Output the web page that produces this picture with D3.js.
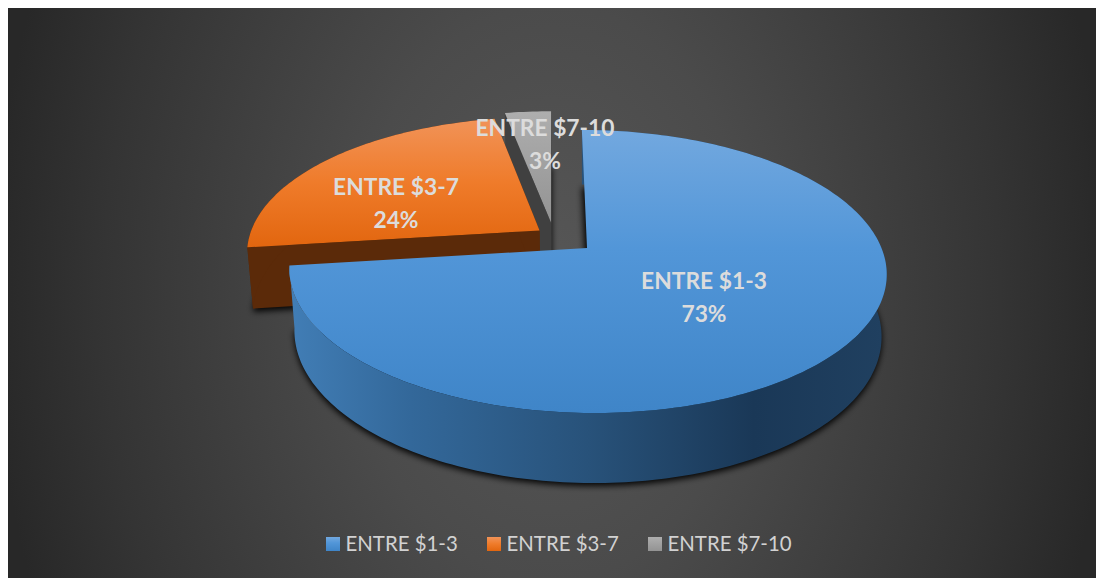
<!DOCTYPE html>
<html>
<head>
<meta charset="utf-8">
<script src="https://cdn.jsdelivr.net/npm/d3@7"></script>
<style>
  html, body { margin: 0; padding: 0; background: #fff; }
  svg { display: block; }
  text { font-family: Lato, "Open Sans", sans-serif; }
</style>
</head>
<body>
<svg id="chart" width="1096" height="578"></svg>
<script>
// Price bands and their share of responses
const categories = ["ENTRE $1-3", "ENTRE $3-7", "ENTRE $7-10"];
const shares = [73, 24, 3];
const ids = ["low", "mid", "high"];

// Slice styling: vertical face gradients and side wall tones
const faceStops = [
  [[0, "#72a8df"], [0.42, "#5296d8"], [1, "#3f85c8"]],
  [[0, "#f19358"], [0.5, "#ef7b2a"], [1, "#e2660f"]],
  [[0, "#aeaeae"], [1, "#939393"]]
];
const wallTone = [null, "#5b2a09", "#404040"];
const blueWallStops = [
  [0, "#417db5"], [0.2, "#33689a"], [0.5, "#28527a"], [0.78, "#1a3857"], [1, "#204060"]
];

// Pie-plane offset of each slice (exploded wedges)
const explodeX = [0, -0.162, -0.122];
const explodeY = [0, -0.13, -0.19];

// Camera model for the tilted disc
const apexX = 587, apexY = 248, radius = 294.5;
const tilt = 137.6, perspective = 0.166, shear = 6;
const depthDrop = 62.4, depthShrink = 0.017;

function project(x, y, z) {
  const s = 1 / (1 - perspective * y + depthShrink * z);
  return [apexX + (radius * x + shear * y) * s, apexY + (tilt * y + depthDrop * z) * s];
}

const svg = d3.select("#chart");
const defs = svg.append("defs");

// Elliptical vignette behind the chart
const bg = defs.append("radialGradient").attr("id", "panelBg")
  .attr("gradientUnits", "userSpaceOnUse")
  .attr("cx", 0).attr("cy", 0).attr("r", 1)
  .attr("gradientTransform", "translate(552,293) scale(560,800)");
[[0, "#575757"], [0.36, "#4b4b4b"], [0.8, "#343434"], [1, "#282828"]].forEach(([o, c]) => {
  bg.append("stop").attr("offset", o).attr("stop-color", c);
});

const blur = defs.append("filter").attr("id", "soft")
  .attr("x", "-10%").attr("y", "-10%").attr("width", "120%").attr("height", "120%");
blur.append("feGaussianBlur").attr("stdDeviation", 3);

function addGradient(id, stops, attrs) {
  const g = defs.append("linearGradient").attr("id", id);
  Object.entries(attrs).forEach(([k, v]) => g.attr(k, v));
  stops.forEach(([o, c]) => g.append("stop").attr("offset", o).attr("stop-color", c));
}
ids.forEach((id, i) => {
  addGradient("face-" + id, faceStops[i], { x1: 0, y1: 0, x2: 0, y2: 1 });
});
addGradient("wall-low", blueWallStops, {
  gradientUnits: "userSpaceOnUse", x1: 292, y1: 0, x2: 884, y2: 0
});

svg.append("rect").attr("x", 8).attr("y", 8).attr("width", 1088).attr("height", 570)
  .attr("fill", "url(#panelBg)");

const pie = d3.pie().sort(null).startAngle(0).endAngle(2 * Math.PI);
const arcs = pie(shares);
const path = d3.line();

// Points along a slice rim at the given depth
function rim(i, a0, a1, z) {
  const n = Math.max(2, Math.ceil((a1 - a0) / 0.02));
  return d3.range(n + 1).map(k => {
    const a = a0 + (a1 - a0) * k / n;
    return project(Math.sin(a) + explodeX[i], -Math.cos(a) + explodeY[i], z);
  });
}
const apexAt = (i, z) => project(explodeX[i], explodeY[i], z);
const sector = (i, z) => [apexAt(i, z), ...rim(i, arcs[i].startAngle, arcs[i].endAngle, z)];
const edge = (i, a) => [apexAt(i, 0), rim(i, a, a, 0)[0], rim(i, a, a, 1)[0], apexAt(i, 1)];
const outerWall = i => [
  ...rim(i, arcs[i].startAngle, arcs[i].endAngle, 0),
  ...rim(i, arcs[i].startAngle, arcs[i].endAngle, 1).reverse()
];

// Soft contact shadows under each slice
const shadows = svg.append("g").attr("filter", "url(#soft)").attr("transform", "translate(0,3)");
arcs.forEach((d, i) => {
  shadows.append("path").attr("d", path(sector(i, 1)) + "Z").attr("fill", "#000").attr("opacity", 0.95);
});

// Back slices first, the large front slice last
[2, 1, 0].forEach(i => {
  const g = svg.append("g").attr("class", "slice-" + ids[i]);
  const wallFill = i === 0 ? "url(#wall-low)" : wallTone[i];
  if (i !== 0) {
    [arcs[i].startAngle, arcs[i].endAngle].forEach(a => {
      g.append("path").attr("d", path(edge(i, a)) + "Z").attr("fill", wallFill);
    });
  }
  g.append("path").attr("d", path(outerWall(i)) + "Z").attr("fill", wallFill);
  g.append("path").attr("d", path(sector(i, 0)) + "Z").attr("fill", `url(#face-${ids[i]})`);
});

// Data labels: category name over percentage
const labelPos = [[704, 289], [396, 195], [545, 136]];
const labelLeading = 32.5;
arcs.forEach((d, i) => {
  const t = svg.append("text")
    .attr("text-anchor", "middle")
    .attr("fill", "#dcdcdc")
    .attr("font-weight", 700)
    .attr("font-size", 22.8);
  t.append("tspan").attr("x", labelPos[i][0]).attr("y", labelPos[i][1]).text(categories[i]);
  t.append("tspan").attr("x", labelPos[i][0]).attr("y", labelPos[i][1] + labelLeading).text(shares[i] + "%");
});

// Legend
const legendX = d3.scaleOrdinal().domain(categories).range([326, 487, 648]);
const legend = svg.append("g").selectAll("g").data(categories).join("g")
  .attr("transform", d => `translate(${legendX(d)},537)`);
legend.append("rect").attr("width", 14).attr("height", 14)
  .attr("fill", (d, i) => `url(#face-${ids[i]})`);
legend.append("text").attr("x", 19.5).attr("y", 14)
  .attr("fill", "#d2d2d2").attr("font-size", 20.4).text(d => d);
</script>
</body>
</html>
